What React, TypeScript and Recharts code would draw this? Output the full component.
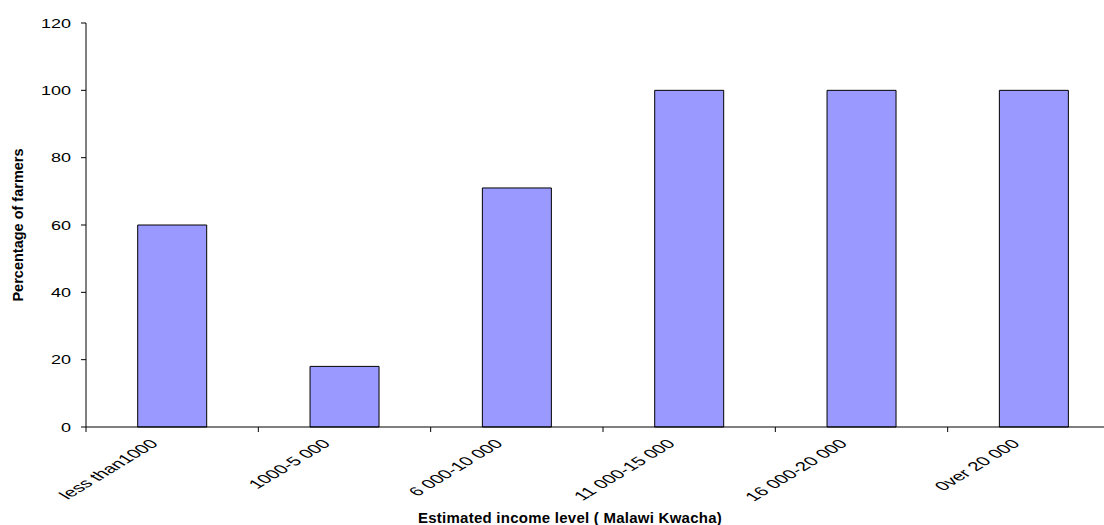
import React from "react";
import { Bar, BarChart, Label, XAxis, YAxis } from "recharts";

const incomeLevels = [
  "less than1000",
  "1000-5 000",
  "6 000-10 000",
  "11 000-15 000",
  "16 000-20 000",
  "0ver 20 000",
];
const farmerPercentages = [60, 18, 71, 100, 100, 100];
const yTicks = [0, 20, 40, 60, 80, 100, 120];

const FONT = '"Liberation Sans", Arial, sans-serif';
const CHART_W = 1140;
const CHART_H = 525;
const MARGIN = { top: 23, right: 20, bottom: 0, left: 0 };
const Y_AXIS_W = 86;
const X_AXIS_H = 98;
const BAND =
  (CHART_W - MARGIN.left - MARGIN.right - Y_AXIS_W) / incomeLevels.length;

const chartData = incomeLevels.map((level, i) => ({
  level,
  percent: farmerPercentages[i],
}));

const XTick = (props: any) => {
  const { x, y, payload, index } = props;
  const half = BAND / 2;
  const last = index === incomeLevels.length - 1;
  return (
    <g>
      <line x1={x - half} x2={x - half} y1={y} y2={y + 5} stroke="#000" />
      {last && (
        <line x1={x + half} x2={x + half} y1={y} y2={y + 5} stroke="#000" />
      )}
      <g transform={`translate(${x - 13},${y + 17.5}) scale(1.65,1) rotate(-45)`}>
        <text
          x={0}
          y={0}
          textAnchor="end"
          fontSize={12.6}
          fontFamily={FONT}
          fill="#000"
        >
          {payload.value}
        </text>
      </g>
    </g>
  );
};

const YTick = (props: any) => {
  const { x, y, payload } = props;
  return (
    <g transform={`translate(${x},${y}) scale(1.43,1)`}>
      <text
        x={0}
        y={0}
        dy={4.5}
        textAnchor="end"
        fontSize={12.6}
        fontFamily={FONT}
        fill="#000"
      >
        {payload.value}
      </text>
    </g>
  );
};

const XTitle = (props: any) => {
  const vb = props.viewBox || { x: 86, y: 427, width: 1034, height: X_AXIS_H };
  return (
    <text
      x={vb.x + 484}
      y={vb.y + vb.height - 2}
      textAnchor="middle"
      fontSize={15}
      fontWeight="bold"
      letterSpacing={0.25}
      fontFamily={FONT}
      fill="#000"
    >
      Estimated income level ( Malawi Kwacha)
    </text>
  );
};

const YTitle = (props: any) => {
  const vb = props.viewBox || { x: 0, y: 23, width: Y_AXIS_W, height: 404 };
  const cx = vb.x + 23;
  const cy = vb.y + vb.height / 2;
  return (
    <text
      x={cx}
      y={cy}
      transform={`rotate(-90, ${cx}, ${cy})`}
      textAnchor="middle"
      fontSize={14.5}
      fontWeight="bold"
      fontFamily={FONT}
      fill="#000"
    >
      Percentage of farmers
    </text>
  );
};

const App: React.FC = () => {
  return (
    <div
      style={{
        position: "absolute",
        left: 0,
        top: 0,
        width: 1104,
        height: 525,
        overflow: "hidden",
        background: "#fff",
      }}
    >
      <BarChart
        width={CHART_W}
        height={CHART_H}
        data={chartData}
        margin={MARGIN}
        barCategoryGap="30%"
      >
        <XAxis
          dataKey="level"
          height={X_AXIS_H}
          interval={0}
          axisLine={{ stroke: "#000" }}
          tickLine={false}
          tickSize={0}
          tickMargin={0}
          tick={<XTick />}
        >
          <Label content={<XTitle />} />
        </XAxis>
        <YAxis
          width={Y_AXIS_W}
          domain={[0, 120]}
          ticks={yTicks}
          interval={0}
          axisLine={{ stroke: "#000" }}
          tickLine={{ stroke: "#000" }}
          tickSize={5}
          tickMargin={10}
          tick={<YTick />}
        >
          <Label content={<YTitle />} />
        </YAxis>
        <Bar
          dataKey="percent"
          fill="#9999FF"
          stroke="#000"
          strokeWidth={1}
          isAnimationActive={false}
        />
      </BarChart>
    </div>
  );
};

export default App;
